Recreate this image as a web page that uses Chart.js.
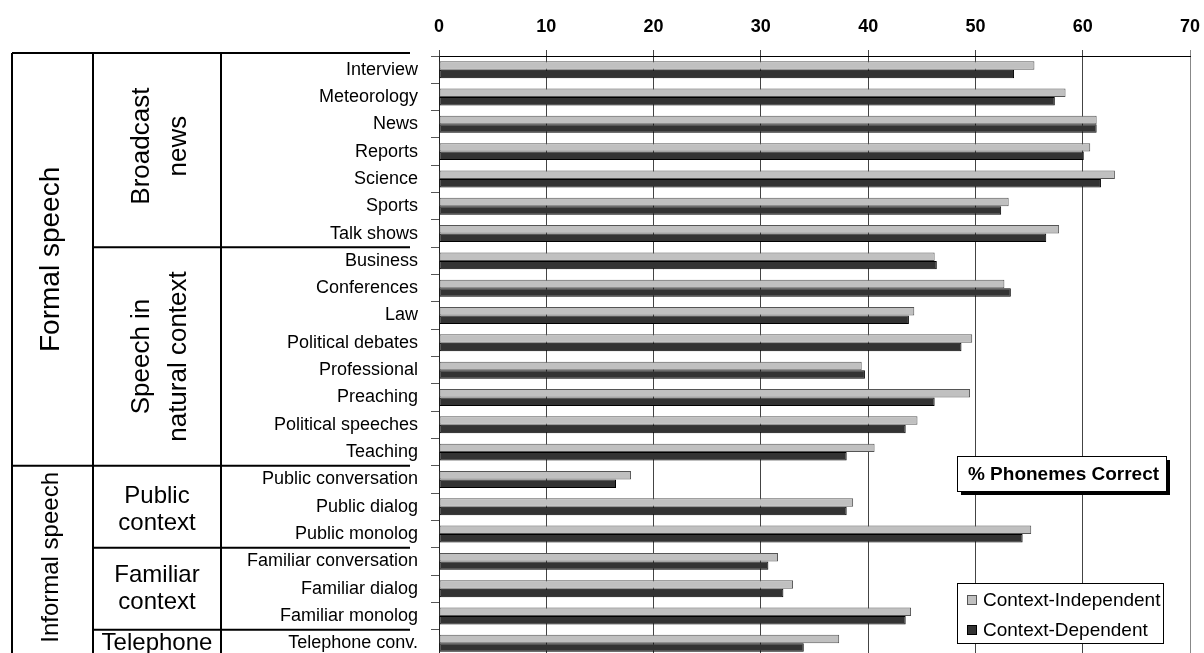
<!DOCTYPE html>
<html><head><meta charset="utf-8">
<script src="https://cdn.jsdelivr.net/npm/chart.js@4.4.1/dist/chart.umd.min.js"></script>
<style>html,body{margin:0;padding:0;overflow:hidden;background:#fff;width:1204px;height:653px}canvas{display:block}</style>
</head><body>
<canvas id="c" width="1204" height="660"></canvas>
<script>
const categories = ['Interview','Meteorology','News','Reports','Science','Sports','Talk shows',
  'Business','Conferences','Law','Political debates','Professional','Preaching','Political speeches','Teaching',
  'Public conversation','Public dialog','Public monolog',
  'Familiar conversation','Familiar dialog','Familiar monolog',
  'Telephone conv.'];
const contextIndependent = [55.5,58.4,61.3,60.7,63.0,53.1,57.8, 46.2,52.7,44.3,49.7,39.4,49.5,44.6,40.6, 17.9,38.6,55.2, 31.6,33.0,44.0, 37.3];
const contextDependent   = [53.6,57.4,61.3,60.1,61.7,52.4,56.6, 46.4,53.3,43.8,48.7,39.7,46.2,43.5,38.0, 16.5,38.0,54.4, 30.7,32.1,43.5, 34.0];
const xTickValues = [0,10,20,30,40,50,60,70];
const seriesNames = ['Context-Independent','Context-Dependent'];
const chartTitle = '% Phonemes Correct';
const level1Groups = [
  {label:['Formal speech'], first:0, last:14},
  {label:['Informal speech'], first:15, last:21}
];
const level2Groups = [
  {label:['Broadcast','news'], first:0, last:6, rotated:true},
  {label:['Speech in','natural context'], first:7, last:14, rotated:true},
  {label:['Public','context'], first:15, last:17, rotated:false},
  {label:['Familiar','context'], first:18, last:20, rotated:false},
  {label:['Telephone'], first:21, last:21, rotated:false}
];

const FONT = 'Liberation Sans, Arial, Helvetica, sans-serif';
const LIGHT = '#c0c0c0', DARK = '#333333';

const tablePlugin = {
  id: 'tablePlugin',
  afterDraw(chart) {
    const ctx = chart.ctx;
    const y = chart.scales.y;
    const area = chart.chartArea;
    const step = (y.getPixelForValue(1) - y.getPixelForValue(0));
    const bTop = (i) => y.getPixelForValue(i) - step / 2;
    const bBot = (i) => y.getPixelForValue(i) + step / 2;
    const top = area.top - 3;
    const bottom = chart.height;
    const xA = 12, xB = 93, xC = 221, xD = 410;
    ctx.save();
    ctx.strokeStyle = '#000';
    ctx.lineWidth = 2;
    ctx.beginPath();
    ctx.moveTo(xA, top); ctx.lineTo(xD, top);
    [xA, xB, xC].forEach(x => { ctx.moveTo(x, top); ctx.lineTo(x, bottom); });
    level1Groups.forEach((g, k) => {
      if (k > 0) { const yy = bTop(g.first); ctx.moveTo(xA, yy); ctx.lineTo(xD, yy); }
    });
    level2Groups.forEach((g, k) => {
      if (k > 0 && !level1Groups.some(l => l.first === g.first)) {
        const yy = bTop(g.first); ctx.moveTo(xB, yy); ctx.lineTo(xD, yy);
      }
    });
    ctx.stroke();

    ctx.fillStyle = '#000';
    ctx.textAlign = 'center';
    ctx.textBaseline = 'middle';
    // level 1 (rotated)
    const l1Sizes = [28, 24];
    const l1Shift = [0, -4];
    level1Groups.forEach((g, k) => {
      const y0 = k === 0 ? top : bTop(g.first);
      const y1 = Math.min(bBot(g.last), bottom);
      const cy = (y0 + y1) / 2 + l1Shift[k];
      ctx.save();
      ctx.translate(51, cy);
      ctx.rotate(-Math.PI / 2);
      ctx.font = l1Sizes[k] + 'px ' + FONT;
      ctx.fillText(g.label[0], 0, 0);
      ctx.restore();
    });
    // level 2
    level2Groups.forEach((g, k) => {
      const y0 = k === 0 ? top : bTop(g.first);
      const y1 = bBot(g.last);
      let cy = (y0 + y1) / 2;
      if (g.rotated) {
        if (k === 0) cy -= 4;
        ctx.save();
        ctx.translate(160, cy);
        ctx.rotate(-Math.PI / 2);
        ctx.font = '26px ' + FONT;
        const gap = 37;
        g.label.forEach((t, i) => {
          ctx.fillText(t, 0, (i - (g.label.length - 1) / 2) * gap);
        });
        ctx.restore();
      } else {
        if (g.label.length > 1 && k === 2) cy += 3;
        ctx.font = '24px ' + FONT;
        const gap = 27;
        g.label.forEach((t, i) => {
          ctx.fillText(t, 157, cy + (i - (g.label.length - 1) / 2) * gap);
        });
      }
    });

    // title box with shadow
    const tx = 957, ty = 456, tw = 209, th = 35;
    ctx.fillStyle = '#000';
    ctx.fillRect(tx + 4, ty + 4, tw, th);
    ctx.fillStyle = '#fff';
    ctx.fillRect(tx, ty, tw, th);
    ctx.lineWidth = 1;
    ctx.strokeStyle = '#000';
    ctx.strokeRect(tx + 0.5, ty + 0.5, tw, th);
    ctx.fillStyle = '#000';
    ctx.font = 'bold 19px ' + FONT;
    ctx.textAlign = 'center';
    ctx.fillText(chartTitle, tx + tw / 2 + 2, ty + th / 2 + 1);

    // legend box
    const lx = 957, ly = 583, lw = 206, lh = 60;
    ctx.fillStyle = '#fff';
    ctx.fillRect(lx, ly, lw, lh);
    ctx.strokeRect(lx + 0.5, ly + 0.5, lw, lh);
    const cols = [[LIGHT, '#555'], [DARK, '#000']];
    ctx.font = '19px ' + FONT;
    ctx.textAlign = 'left';
    seriesNames.forEach((name, i) => {
      const cy = ly + 17 + i * 30;
      ctx.fillStyle = cols[i][0];
      ctx.fillRect(967, cy - 5, 10, 10);
      ctx.strokeStyle = cols[i][1];
      ctx.strokeRect(967.5, cy - 4.5, 9, 9);
      ctx.fillStyle = '#000';
      ctx.fillText(name, 983, cy + 1);
    });
    ctx.restore();
  }
};

new Chart(document.getElementById('c'), {
  type: 'bar',
  data: {
    labels: categories,
    datasets: [
      {label: seriesNames[0], data: contextIndependent, backgroundColor: LIGHT, borderColor: '#555', borderWidth: 1, borderSkipped: false},
      {label: seriesNames[1], data: contextDependent, backgroundColor: DARK, borderColor: '#000', borderWidth: 1, borderSkipped: false}
    ]
  },
  options: {
    indexAxis: 'y',
    responsive: false,
    animation: false,
    devicePixelRatio: 1,
    layout: {padding: {left: 0, right: 14, top: 0, bottom: 3}},
    datasets: {bar: {categoryPercentage: 0.62, barPercentage: 1.0}},
    plugins: {legend: {display: false}, tooltip: {enabled: false}, title: {display: false}},
    scales: {
      x: {
        position: 'top',
        min: 0, max: 70,
        afterBuildTicks(scale) { scale.ticks = xTickValues.map(v => ({value: v})); },
        afterFit(scale) { scale.height = 56; scale.paddingLeft = 0; scale.paddingRight = 0; },
        ticks: {font: {family: FONT, size: 18, weight: 'bold'}, color: '#000', padding: 12, maxRotation: 0},
        grid: {
          color: (c) => (c.tick && c.tick.value === 70) ? '#888' : '#444',
          lineWidth: 1, tickLength: 6, drawOnChartArea: true
        },
        border: {display: true, color: '#000', width: 1}
      },
      y: {
        afterFit(scale) { scale.width = 439; scale.paddingTop = 0; scale.paddingBottom = 0; },
        ticks: {font: {family: FONT, size: 18}, color: '#000', padding: 13, autoSkip: false},
        grid: {drawOnChartArea: false, drawTicks: true, tickLength: 8, color: '#555', offset: true},
        border: {display: true, color: '#222', width: 1}
      }
    }
  },
  plugins: [tablePlugin]
});
</script>
</body></html>
